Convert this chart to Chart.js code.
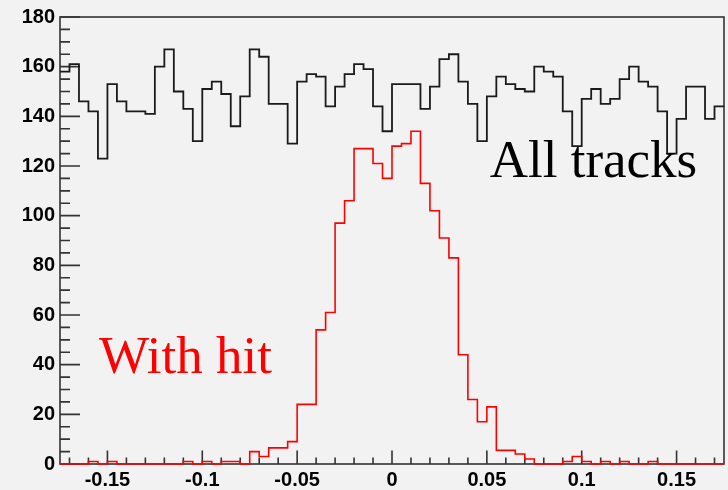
<!DOCTYPE html>
<html>
<head>
<meta charset="utf-8">
<script src="https://cdn.jsdelivr.net/npm/chart.js@4/dist/chart.umd.min.js"></script>
<style>
  html, body { margin: 0; padding: 0; background: #f2f2f2; }
  #wrap { width: 728px; height: 490px; }
</style>
</head>
<body>
<div id="wrap"><canvas id="c" width="728" height="490"></canvas></div>
<script>
// ---- data ----
const xMin = -0.175;
const xMax = 0.175;
const binWidth = 0.005;
const allTracks = [158,161,146,142,123,153,146,142,142,141,
                   160,167,150,143,130,151,154,149,136,148,
                   167,164,145,145,129,154,157,156,144,152,
                   157,161,159,144,134,153,153,153,143,152,
                   163,165,154,145,130,148,156,153,151,150,
                   160,158,156,142,128,147,151,145,147,155,
                   160,154,152,142,125,139,152,152,139,144];
const withHit = [0,0,0,1,0,1,0,0,0,0,
                 0,0,0,1,0,1,0,1,1,0,
                 5,3,6.5,6.5,9,24,24,54,61,97,
                 106,127,127,121,115,128,129,134,113,102,
                 91,83,44,26,17,23,5.5,5.5,4,2,
                 0,0,0,1,3,1,0,1,0,1,
                 0,0,1,0,0,0,0,0,0,0];
const xTickValues = [-0.15,-0.1,-0.05,0,0.05,0.1,0.15];
const xTickLabels = ["-0.15","-0.1","-0.05","0","0.05","0.1","0.15"];
const yTickValues = [0,20,40,60,80,100,120,140,160,180];
const yTickLabels = ["0","20","40","60","80","100","120","140","160","180"];
const labelAll = "All tracks";
const labelHit = "With hit";

function histPoints(vals) {
  const pts = vals.map((v, i) => ({ x: xMin + i * binWidth, y: v }));
  pts.push({ x: xMin + vals.length * binWidth, y: vals[vals.length - 1] });
  return pts;
}

const framePlugin = {
  id: 'frame',
  beforeDraw(chart) {
    const ctx = chart.ctx;
    ctx.save();
    ctx.fillStyle = '#f2f2f2';
    ctx.fillRect(0, 0, chart.width, chart.height);
    ctx.restore();
  },
  beforeDatasetsDraw(chart) {
    const { ctx, chartArea: a, scales } = chart;
    const xs = scales.x, ys = scales.y;
    ctx.save();
    ctx.strokeStyle = '#333';
    ctx.lineWidth = 1.6;
    ctx.strokeRect(a.left, a.top, a.right - a.left, a.bottom - a.top);
    ctx.beginPath();
    for (let v = 0; v <= 180; v += 5) {
      const y = ys.getPixelForValue(v);
      const len = (v % 20 === 0) ? 20 : 10;
      ctx.moveTo(a.left, y); ctx.lineTo(a.left + len, y);
    }
    for (let k = -17; k <= 17; k++) {
      const x = xs.getPixelForValue(k * 0.01);
      const len = (k % 5 === 0) ? 13.5 : 6.5;
      ctx.moveTo(x, a.bottom); ctx.lineTo(x, a.bottom - len);
    }
    ctx.stroke();
    ctx.restore();
  },
  afterDatasetsDraw(chart) {
    const { ctx, scales } = chart;
    const xs = scales.x, ys = scales.y;
    ctx.save();
    ctx.font = "53px 'Liberation Serif'";
    ctx.textBaseline = 'alphabetic';
    ctx.textAlign = 'left';
    ctx.fillStyle = '#000';
    ctx.fillText(labelAll, xs.getPixelForValue(0.0515), ys.getPixelForValue(115.5));
    ctx.fillStyle = '#ff0000';
    ctx.fillText(labelHit, xs.getPixelForValue(-0.1545), ys.getPixelForValue(36.7));
    ctx.restore();
  }
};

const tickFont = { family: 'Liberation Sans', size: 20, weight: 'bold' };

new Chart(document.getElementById('c'), {
  type: 'line',
  data: {
    datasets: [
      {
        label: labelHit,
        data: histPoints(withHit),
        borderColor: '#ff0000',
        borderWidth: 1.6,
        pointRadius: 0,
        stepped: true,
        fill: false,
        clip: 4
      },
      {
        label: labelAll,
        data: histPoints(allTracks),
        borderColor: '#1a1a1a',
        borderWidth: 1.8,
        pointRadius: 0,
        stepped: true,
        fill: false,
        clip: 4
      }
    ]
  },
  options: {
    responsive: false,
    animation: false,
    events: [],
    layout: { autoPadding: false, padding: { top: 14, right: 4, left: 0, bottom: 0 } },
    plugins: { legend: { display: false }, tooltip: { enabled: false } },
    scales: {
      x: {
        type: 'linear',
        min: xMin,
        max: xMax,
        grid: { display: false, drawTicks: false },
        border: { display: false },
        afterBuildTicks(scale) { scale.ticks = xTickValues.map(v => ({ value: v })); },
        afterFit(scale) { scale.height = 26; },
        ticks: {
          font: tickFont,
          color: '#000',
          padding: 4,
          maxRotation: 0,
          autoSkip: false,
          callback(value) {
            const i = xTickValues.findIndex(t => Math.abs(t - value) < 1e-9);
            return i >= 0 ? xTickLabels[i] : '';
          }
        }
      },
      y: {
        type: 'linear',
        min: 0,
        max: 180,
        grid: { display: false, drawTicks: false },
        border: { display: false },
        afterBuildTicks(scale) { scale.ticks = yTickValues.map(v => ({ value: v })); },
        afterFit(scale) { scale.width = 60; },
        ticks: {
          font: tickFont,
          color: '#000',
          padding: 5,
          autoSkip: false,
          callback(value) {
            const i = yTickValues.indexOf(value);
            return i >= 0 ? yTickLabels[i] : '';
          }
        }
      }
    }
  },
  plugins: [framePlugin]
});
</script>
</body>
</html>
